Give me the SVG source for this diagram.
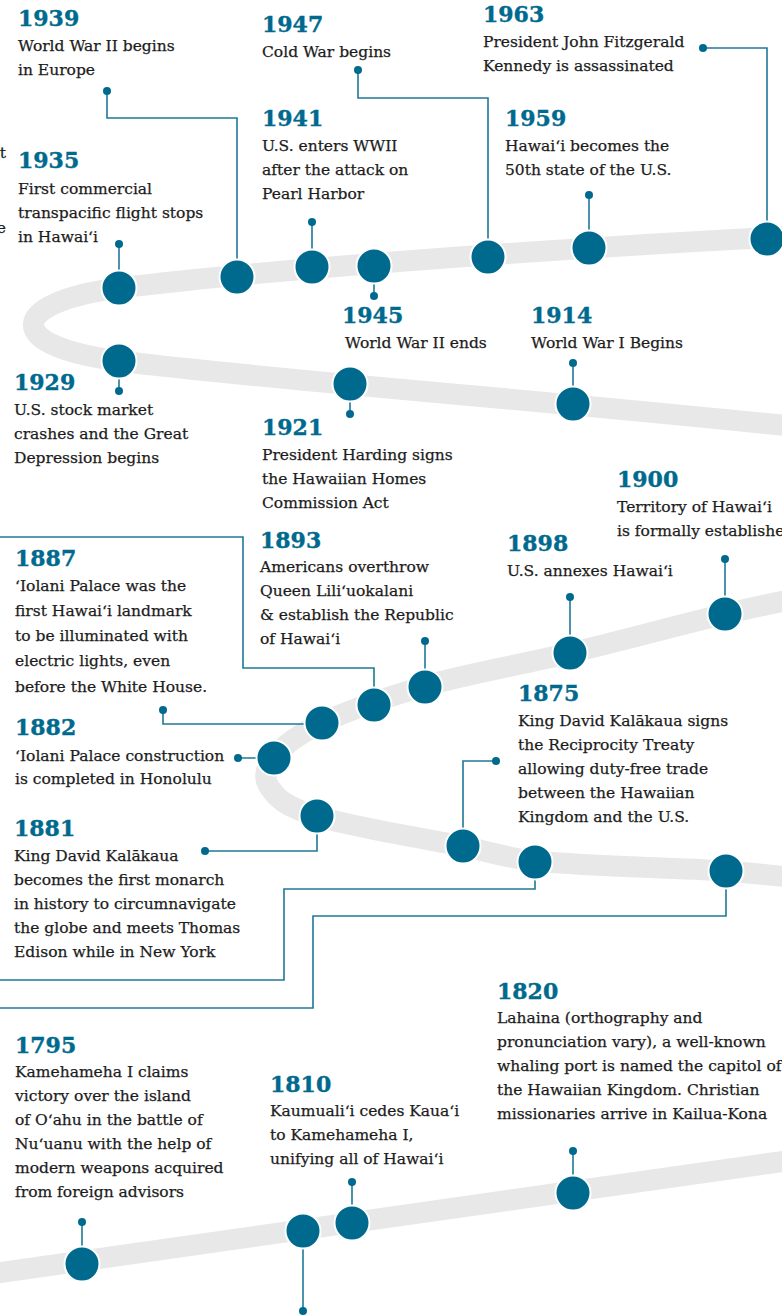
<svg xmlns="http://www.w3.org/2000/svg" width="782" height="1315" viewBox="0 0 782 1315">
<style>
.track{fill:none;stroke:#e8e8e8;stroke-width:21;stroke-linecap:butt}
.node circle{fill:#006a8e;stroke:#fff;stroke-width:2}
.con path{fill:none;stroke:#1f7898;stroke-width:1.6}
.con circle{fill:#006a8e}
.yr{font-family:"DejaVu Serif","Liberation Serif",serif;font-weight:bold;font-size:22px;fill:#006a8e;stroke:#006a8e;stroke-width:0.4}
.tx{font-family:"DejaVu Serif","Liberation Serif",serif;font-size:15.5px;fill:#1c1c1c;stroke:#1c1c1c;stroke-width:0.25}
</style>
<rect width="782" height="1315" fill="#fff"/>
<g id="track">
<path class="track" d="M800,236 C600,246 300,266 119,288 C10,302 0,345 119,361 C250,378 520,398 800,427"/>
<path class="track" d="M800,598 C775,603 763,605 725,614 C687,623 620,641 570,653 C520,665 466,674 425,686 C384,698 347,711 322,723 C297,735 283,746 274,757 C265,768 263,778 270,788 C277,798 284,806 316,816 C348,826 426,839 462,846 C486,851 511,859 535,861 C598,867 662,867 726,871 C751,873 790,877 800,878"/>
<path class="track" d="M-10,1274 L800,1159"/>
</g>
<g id="connectors" class="con">
<path d="M703,48 H767 V239"/><circle cx="703" cy="48" r="4"/>
<path d="M589,195 V248"/><circle cx="589" cy="195" r="4"/>
<path d="M358,70 V98 H488 V257"/><circle cx="358" cy="70" r="4"/>
<path d="M312,222 V267"/><circle cx="312" cy="222" r="4"/>
<path d="M374,266 V296"/><circle cx="374" cy="296" r="4"/>
<path d="M107,91 V118 H237 V277"/><circle cx="107" cy="91" r="4"/>
<path d="M119,244 V288"/><circle cx="119" cy="244" r="4"/>
<path d="M119,361 V391"/><circle cx="119" cy="391" r="4"/>
<path d="M350,384 V414"/><circle cx="350" cy="414" r="4"/>
<path d="M573,363 V404"/><circle cx="573" cy="363" r="4"/>
<path d="M725,559 V614"/><circle cx="725" cy="559" r="4"/>
<path d="M570,597 V653"/><circle cx="570" cy="597" r="4"/>
<path d="M425,641 V687"/><circle cx="425" cy="641" r="4"/>
<path d="M0,537 H243 V668 H374 V705"/>
<path d="M163,710 V724 H322"/><circle cx="163" cy="710" r="4"/>
<path d="M238,758 H274"/><circle cx="238" cy="758" r="4"/>
<path d="M205,851 H317 V816"/><circle cx="205" cy="851" r="4"/>
<path d="M496,761 H463 V846"/><circle cx="496" cy="761" r="4"/>
<path d="M535,862 V889 H284 V980 H0"/>
<path d="M726,871 V916 H313 V1008 H0"/>
<path d="M573,1151 V1193"/><circle cx="573" cy="1151" r="4"/>
<path d="M82,1222 V1264"/><circle cx="82" cy="1222" r="4"/>
<path d="M352,1182 V1223"/><circle cx="352" cy="1182" r="4"/>
<path d="M303,1231 V1311"/><circle cx="303" cy="1311" r="4"/>
</g>
<g id="n1963" class="node"><circle cx="767" cy="239" r="17.5"/>
<text class="yr" x="483" y="22">1963</text>
<text class="tx" x="483" y="47">President John Fitzgerald</text>
<text class="tx" x="483" y="71">Kennedy is assassinated</text></g>
<g id="n1959" class="node"><circle cx="589" cy="248" r="17.5"/>
<text class="yr" x="505" y="126">1959</text>
<text class="tx" x="505" y="151">Hawai‘i becomes the</text>
<text class="tx" x="505" y="175">50th state of the U.S.</text></g>
<g id="n1947" class="node"><circle cx="488" cy="257" r="17.5"/>
<text class="yr" x="262" y="32">1947</text>
<text class="tx" x="262" y="57">Cold War begins</text></g>
<g id="n1945" class="node"><circle cx="374" cy="266" r="17.5"/>
<text class="yr" x="342" y="323">1945</text>
<text class="tx" x="345" y="348">World War II ends</text></g>
<g id="n1941" class="node"><circle cx="312" cy="267" r="17.5"/>
<text class="yr" x="262" y="126">1941</text>
<text class="tx" x="262" y="151">U.S. enters WWII</text>
<text class="tx" x="262" y="175">after the attack on</text>
<text class="tx" x="262" y="199">Pearl Harbor</text></g>
<g id="n1939" class="node"><circle cx="237" cy="277" r="17.5"/>
<text class="yr" x="18" y="26">1939</text>
<text class="tx" x="18" y="51">World War II begins</text>
<text class="tx" x="18" y="75">in Europe</text></g>
<g id="n1935" class="node"><circle cx="119" cy="288" r="17.5"/>
<text class="yr" x="18" y="168">1935</text>
<text class="tx" x="18" y="194">First commercial</text>
<text class="tx" x="18" y="218">transpacific flight stops</text>
<text class="tx" x="18" y="242">in Hawai‘i</text></g>
<g id="fragments">
<text class="tx" x="6" y="158" text-anchor="end">t</text>
<text class="tx" x="6" y="233" text-anchor="end">e</text></g>
<g id="n1929" class="node"><circle cx="119" cy="361" r="17.5"/>
<text class="yr" x="14" y="390">1929</text>
<text class="tx" x="14" y="415">U.S. stock market</text>
<text class="tx" x="14" y="439">crashes and the Great</text>
<text class="tx" x="14" y="463">Depression begins</text></g>
<g id="n1921" class="node"><circle cx="350" cy="384" r="17.5"/>
<text class="yr" x="262" y="435">1921</text>
<text class="tx" x="262" y="460">President Harding signs</text>
<text class="tx" x="262" y="484">the Hawaiian Homes</text>
<text class="tx" x="262" y="508">Commission Act</text></g>
<g id="n1914" class="node"><circle cx="573" cy="404" r="17.5"/>
<text class="yr" x="531" y="323">1914</text>
<text class="tx" x="531" y="348">World War I Begins</text></g>
<g id="n1900" class="node"><circle cx="725" cy="614" r="17.5"/>
<text class="yr" x="617" y="487">1900</text>
<text class="tx" x="617" y="512">Territory of Hawai‘i</text>
<text class="tx" x="617" y="536">is formally established</text></g>
<g id="n1898" class="node"><circle cx="570" cy="653" r="17.5"/>
<text class="yr" x="507" y="551">1898</text>
<text class="tx" x="507" y="576">U.S. annexes Hawai‘i</text></g>
<g id="n1893" class="node"><circle cx="425" cy="687" r="17.5"/>
<text class="yr" x="260" y="548">1893</text>
<text class="tx" x="260" y="572">Americans overthrow</text>
<text class="tx" x="260" y="596">Queen Lili‘uokalani</text>
<text class="tx" x="260" y="620">&amp; establish the Republic</text>
<text class="tx" x="260" y="644">of Hawai‘i</text></g>
<g id="n-offcanvas-a" class="node"><circle cx="374" cy="705" r="17.5"/></g>
<g id="n1887" class="node"><circle cx="322" cy="723" r="17.5"/>
<text class="yr" x="15" y="566">1887</text>
<text class="tx" x="15" y="591">‘Iolani Palace was the</text>
<text class="tx" x="15" y="616">first Hawai‘i landmark</text>
<text class="tx" x="15" y="641">to be illuminated with</text>
<text class="tx" x="15" y="666">electric lights, even</text>
<text class="tx" x="15" y="692">before the White House.</text></g>
<g id="n1882" class="node"><circle cx="274" cy="758" r="17.5"/>
<text class="yr" x="15" y="735">1882</text>
<text class="tx" x="15" y="761">‘Iolani Palace construction</text>
<text class="tx" x="15" y="784">is completed in Honolulu</text></g>
<g id="n1881" class="node"><circle cx="317" cy="816" r="17.5"/>
<text class="yr" x="14" y="836">1881</text>
<text class="tx" x="14" y="861">King David Kalākaua</text>
<text class="tx" x="14" y="885">becomes the first monarch</text>
<text class="tx" x="14" y="909">in history to circumnavigate</text>
<text class="tx" x="14" y="933">the globe and meets Thomas</text>
<text class="tx" x="14" y="957">Edison while in New York</text></g>
<g id="n1875" class="node"><circle cx="463" cy="846" r="17.5"/>
<text class="yr" x="518" y="701">1875</text>
<text class="tx" x="518" y="726">King David Kalākaua signs</text>
<text class="tx" x="518" y="750">the Reciprocity Treaty</text>
<text class="tx" x="518" y="774">allowing duty-free trade</text>
<text class="tx" x="518" y="798">between the Hawaiian</text>
<text class="tx" x="518" y="822">Kingdom and the U.S.</text></g>
<g id="n-offcanvas-b" class="node"><circle cx="535" cy="862" r="17.5"/></g>
<g id="n-offcanvas-c" class="node"><circle cx="726" cy="871" r="17.5"/></g>
<g id="n1820" class="node"><circle cx="573" cy="1193" r="17.5"/>
<text class="yr" x="497" y="999">1820</text>
<text class="tx" x="497" y="1023">Lahaina (orthography and</text>
<text class="tx" x="497" y="1047">pronunciation vary), a well-known</text>
<text class="tx" x="497" y="1071">whaling port is named the capitol of</text>
<text class="tx" x="497" y="1095">the Hawaiian Kingdom. Christian</text>
<text class="tx" x="497" y="1119">missionaries arrive in Kailua-Kona</text></g>
<g id="n1795" class="node"><circle cx="82" cy="1264" r="17.5"/>
<text class="yr" x="15" y="1053">1795</text>
<text class="tx" x="15" y="1077">Kamehameha I claims</text>
<text class="tx" x="15" y="1101">victory over the island</text>
<text class="tx" x="15" y="1125">of O‘ahu in the battle of</text>
<text class="tx" x="15" y="1149">Nu‘uanu with the help of</text>
<text class="tx" x="15" y="1173">modern weapons acquired</text>
<text class="tx" x="15" y="1197">from foreign advisors</text></g>
<g id="n1810" class="node"><circle cx="352" cy="1223" r="17.5"/>
<text class="yr" x="270" y="1092">1810</text>
<text class="tx" x="270" y="1116">Kaumuali‘i cedes Kaua‘i</text>
<text class="tx" x="270" y="1140">to Kamehameha I,</text>
<text class="tx" x="270" y="1164">unifying all of Hawai‘i</text></g>
<g id="n-offcanvas-d" class="node"><circle cx="303" cy="1231" r="17.5"/></g>
</svg>
